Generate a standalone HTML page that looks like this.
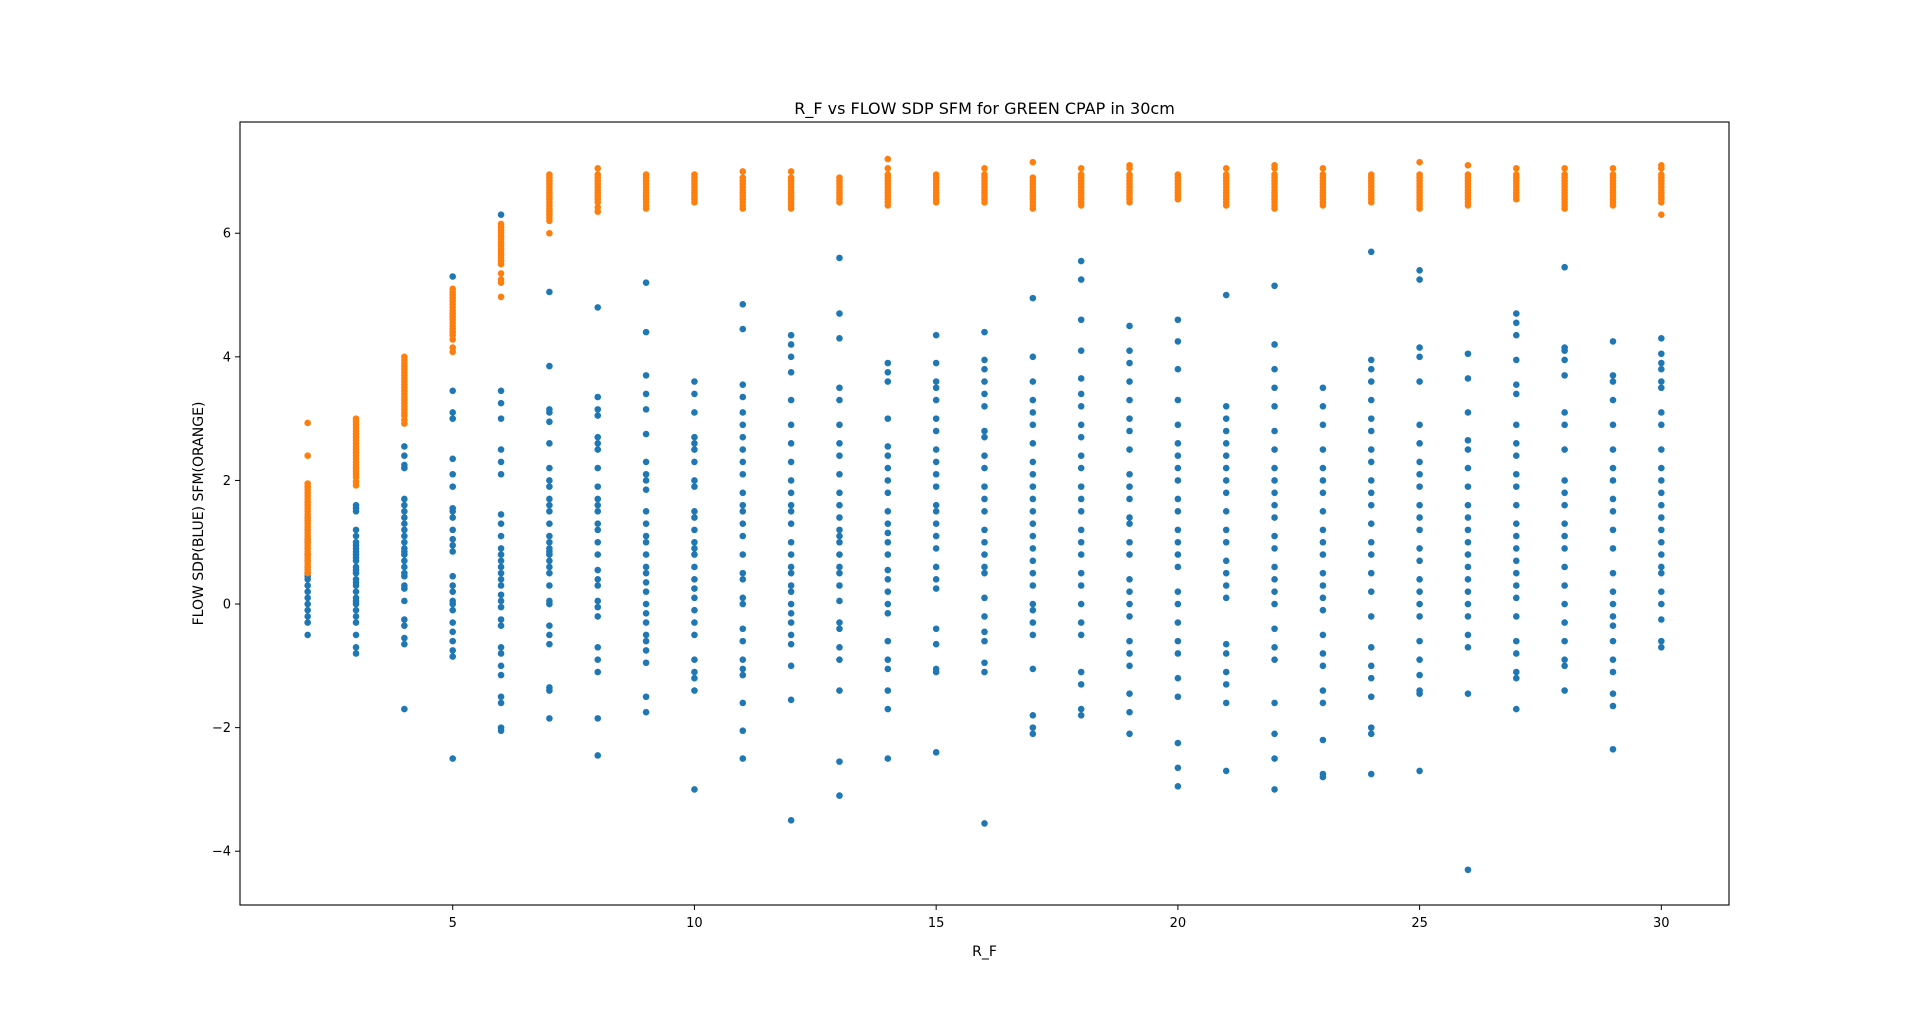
<!DOCTYPE html>
<html><head><meta charset="utf-8"><style>
html,body{margin:0;padding:0;background:#fff;}
svg{display:block;font-family:"DejaVu Sans","Liberation Sans",sans-serif;}
</style></head><body>
<svg id="chart" width="1920" height="1017" viewBox="0 0 1920 1017" xmlns="http://www.w3.org/2000/svg">
<rect x="0" y="0" width="1920" height="1017" fill="#fff"/>
<text x="984.5" y="114" font-size="16" text-anchor="middle" fill="#000">R_F vs FLOW SDP SFM for GREEN CPAP in 30cm</text>
<text x="984.5" y="956" font-size="14" text-anchor="middle" fill="#000">R_F</text>
<text x="0" y="0" font-size="14" text-anchor="middle" fill="#000" transform="translate(203,513.5) rotate(-90)">FLOW SDP(BLUE) SFM(ORANGE)</text>
<g id="marks"></g>
<g id="axes"></g>
</svg>
<script>
const xTicks = [5,10,15,20,25,30];
const yTicks = [-4,-2,0,2,4,6];
const categories = [2,3,4,5,6,7,8,9,10,11,12,13,14,15,16,17,18,19,20,21,22,23,24,25,26,27,28,29,30];
const blueSeries = [
[-0.5,-0.3,-0.2,-0.1,0,0.1,0.2,0.3,0.4,0.45,0.5,0.6,0.7,0.8,0.9,1.0,1.05,1.2,1.4],
[-0.8,-0.7,-0.5,-0.3,-0.2,-0.1,0,0.05,0.1,0.2,0.3,0.35,0.4,0.5,0.55,0.6,0.7,0.75,0.8,0.85,0.9,0.95,1.0,1.1,1.2,1.5,1.55,1.6],
[-1.7,-0.65,-0.55,-0.35,-0.25,0.05,0.25,0.3,0.45,0.5,0.6,0.7,0.8,0.85,0.9,1.0,1.1,1.2,1.3,1.4,1.5,1.6,1.7,2.2,2.25,2.4,2.55],
[-2.5,-0.85,-0.75,-0.6,-0.45,-0.3,-0.1,0,0.05,0.2,0.3,0.45,0.85,0.95,1.05,1.2,1.4,1.5,1.55,1.9,2.1,2.35,3.0,3.1,3.45,5.3],
[-2.05,-2.0,-1.6,-1.5,-1.15,-1.0,-0.8,-0.7,-0.35,-0.25,-0.05,0.05,0.15,0.3,0.4,0.5,0.6,0.7,0.8,0.9,1.1,1.3,1.45,2.1,2.3,2.5,3.0,3.25,3.45,6.3],
[-1.85,-1.4,-1.35,-0.65,-0.5,-0.35,0,0.05,0.3,0.5,0.6,0.7,0.8,0.85,0.9,1.0,1.1,1.3,1.5,1.6,1.7,1.9,2.0,2.2,2.6,2.95,3.1,3.15,3.85,5.05],
[-2.45,-1.85,-1.1,-0.9,-0.7,-0.2,-0.05,0.05,0.3,0.4,0.55,0.8,1.0,1.2,1.3,1.5,1.6,1.7,1.9,2.2,2.5,2.6,2.7,3.05,3.15,3.35,4.8],
[-1.75,-1.5,-0.95,-0.75,-0.6,-0.5,-0.3,-0.15,0,0.2,0.35,0.5,0.6,0.8,1.0,1.1,1.3,1.5,1.85,2.0,2.1,2.3,2.75,3.15,3.4,3.7,4.4,5.2],
[-3.0,-1.4,-1.2,-1.1,-0.9,-0.5,-0.3,-0.1,0.1,0.25,0.4,0.6,0.8,0.9,1.0,1.2,1.4,1.5,1.9,2.0,2.3,2.5,2.6,2.7,3.1,3.4,3.6],
[-2.5,-2.05,-1.6,-1.15,-1.05,-0.9,-0.6,-0.4,0,0.1,0.4,0.5,0.8,1.1,1.3,1.5,1.6,1.8,2.1,2.3,2.5,2.7,2.9,3.1,3.35,3.55,4.45,4.85],
[-3.5,-1.55,-1.0,-0.65,-0.5,-0.3,-0.15,0,0.2,0.3,0.5,0.6,0.8,1.0,1.3,1.5,1.6,1.8,2.0,2.3,2.6,2.9,3.3,3.75,4.0,4.2,4.35],
[-3.1,-2.55,-1.4,-0.9,-0.7,-0.4,-0.3,0.05,0.3,0.5,0.6,0.8,1.0,1.1,1.2,1.4,1.6,1.8,2.1,2.4,2.6,2.9,3.3,3.5,4.3,4.7,5.6],
[-2.5,-1.7,-1.4,-1.05,-0.9,-0.6,-0.15,0,0.2,0.4,0.55,0.8,1.0,1.15,1.3,1.5,1.8,2.0,2.2,2.4,2.55,3.0,3.6,3.75,3.9],
[-2.4,-1.1,-1.05,-0.65,-0.4,0.25,0.4,0.6,0.9,1.1,1.3,1.5,1.6,1.9,2.1,2.3,2.5,2.8,3.0,3.3,3.5,3.6,3.9,4.35],
[-3.55,-1.1,-0.95,-0.6,-0.45,-0.2,0.1,0.5,0.6,0.8,1.0,1.2,1.5,1.7,1.9,2.2,2.4,2.7,2.8,3.2,3.4,3.6,3.8,3.95,4.4],
[-2.1,-2.0,-1.8,-1.05,-0.5,-0.3,-0.1,0,0.3,0.5,0.7,0.9,1.1,1.3,1.5,1.7,1.9,2.1,2.3,2.6,2.9,3.1,3.3,3.6,4.0,4.95],
[-1.8,-1.7,-1.3,-1.1,-0.5,-0.3,0,0.3,0.5,0.8,1.0,1.2,1.5,1.7,1.9,2.2,2.4,2.7,2.9,3.2,3.4,3.65,4.1,4.6,5.25,5.55],
[-2.1,-1.75,-1.45,-1.0,-0.8,-0.6,-0.2,0,0.2,0.4,0.8,1.0,1.3,1.4,1.7,1.9,2.1,2.5,2.8,3.0,3.3,3.6,3.9,4.1,4.5],
[-2.95,-2.65,-2.25,-1.5,-1.2,-0.8,-0.6,-0.3,0,0.2,0.6,0.8,1.0,1.2,1.5,1.7,2.0,2.2,2.4,2.6,2.9,3.3,3.8,4.25,4.6],
[-2.7,-1.6,-1.3,-1.1,-0.8,-0.65,0.1,0.3,0.5,0.7,1.0,1.2,1.5,1.8,2.0,2.2,2.4,2.6,2.8,3.0,3.2,5.0],
[-3.0,-2.5,-2.1,-1.6,-0.9,-0.7,-0.4,0,0.2,0.4,0.6,0.9,1.1,1.4,1.6,1.8,2.0,2.2,2.5,2.8,3.2,3.5,3.8,4.2,5.15],
[-2.8,-2.75,-2.2,-1.6,-1.4,-1.0,-0.8,-0.5,-0.1,0.1,0.3,0.5,0.8,1.0,1.2,1.5,1.8,2.0,2.2,2.5,2.9,3.2,3.5],
[-2.75,-2.1,-2.0,-1.5,-1.2,-1.0,-0.7,-0.2,0.2,0.5,0.8,1.0,1.3,1.6,1.8,2.0,2.3,2.5,2.8,3.0,3.3,3.6,3.8,3.95,5.7],
[-2.7,-1.45,-1.4,-1.15,-0.9,-0.6,-0.2,0,0.2,0.4,0.7,0.9,1.2,1.4,1.6,1.9,2.1,2.3,2.6,2.9,3.6,4.0,4.15,5.25,5.4],
[-4.3,-1.45,-0.7,-0.5,-0.2,0,0.2,0.4,0.6,0.8,1.0,1.2,1.4,1.6,1.9,2.2,2.5,2.65,3.1,3.65,4.05],
[-1.7,-1.2,-1.1,-0.8,-0.6,-0.2,0.1,0.3,0.5,0.7,0.9,1.1,1.3,1.6,1.9,2.1,2.4,2.6,2.9,3.4,3.55,3.95,4.35,4.55,4.7],
[-1.4,-1.0,-0.9,-0.6,-0.3,0,0.3,0.6,0.9,1.1,1.3,1.6,1.8,2.0,2.5,2.9,3.1,3.7,3.95,4.1,4.15,5.45],
[-2.35,-1.65,-1.45,-1.1,-0.9,-0.6,-0.35,-0.2,0,0.2,0.5,0.9,1.2,1.5,1.7,2.0,2.2,2.5,2.9,3.3,3.6,3.7,4.25],
[-0.7,-0.6,-0.25,0,0.2,0.5,0.6,0.8,1.0,1.2,1.4,1.6,1.8,2.0,2.2,2.5,2.9,3.1,3.5,3.6,3.8,3.9,4.05,4.3]
];
const orangeSeries = [
[0.5,0.55,0.6,0.65,0.7,0.75,0.8,0.85,0.9,0.95,1.0,1.05,1.1,1.15,1.2,1.25,1.3,1.35,1.4,1.45,1.5,1.55,1.6,1.65,1.7,1.75,1.8,1.85,1.9,1.95,2.4,2.93],
[1.92,1.98,2.05,2.1,2.15,2.2,2.25,2.3,2.35,2.4,2.45,2.5,2.55,2.6,2.65,2.7,2.75,2.8,2.85,2.9,2.95,3.0],
[2.92,2.98,3.05,3.1,3.15,3.2,3.25,3.3,3.35,3.4,3.45,3.5,3.55,3.6,3.65,3.7,3.75,3.8,3.85,3.9,3.95,4.0],
[4.08,4.15,4.28,4.35,4.4,4.45,4.5,4.55,4.6,4.65,4.7,4.75,4.8,4.85,4.9,4.95,5.0,5.05,5.1],
[4.97,5.2,5.25,5.35,5.5,5.55,5.6,5.65,5.7,5.75,5.8,5.85,5.9,5.95,6.0,6.05,6.1,6.15],
[6.0,6.2,6.25,6.3,6.35,6.4,6.45,6.5,6.55,6.6,6.65,6.7,6.75,6.8,6.85,6.9,6.95],
[6.35,6.42,6.5,6.55,6.6,6.65,6.7,6.75,6.8,6.85,6.9,6.95,7.05],
[6.4,6.45,6.5,6.55,6.6,6.65,6.7,6.75,6.8,6.85,6.9,6.95],
[6.5,6.55,6.6,6.65,6.7,6.75,6.8,6.85,6.9,6.95],
[6.4,6.45,6.5,6.55,6.6,6.65,6.7,6.75,6.8,6.85,6.9,7.0],
[6.4,6.45,6.5,6.55,6.6,6.65,6.7,6.75,6.8,6.85,6.9,7.0],
[6.5,6.55,6.6,6.65,6.7,6.75,6.8,6.85,6.9],
[6.45,6.5,6.55,6.6,6.65,6.7,6.75,6.8,6.85,6.9,6.95,7.05,7.2],
[6.5,6.55,6.6,6.65,6.7,6.75,6.8,6.85,6.9,6.95],
[6.5,6.55,6.6,6.65,6.7,6.75,6.8,6.85,6.9,6.95,7.05],
[6.4,6.45,6.5,6.55,6.6,6.65,6.7,6.75,6.8,6.85,6.9,7.15],
[6.45,6.5,6.55,6.6,6.65,6.7,6.75,6.8,6.85,6.9,6.95,7.05],
[6.5,6.55,6.6,6.65,6.7,6.75,6.8,6.85,6.9,6.95,7.05,7.1],
[6.55,6.6,6.65,6.7,6.75,6.8,6.85,6.9,6.95],
[6.45,6.5,6.55,6.6,6.65,6.7,6.75,6.8,6.85,6.9,6.95,7.05],
[6.4,6.45,6.5,6.55,6.6,6.65,6.7,6.75,6.8,6.85,6.9,6.95,7.05,7.1],
[6.45,6.5,6.55,6.6,6.65,6.7,6.75,6.8,6.85,6.9,6.95,7.05],
[6.5,6.55,6.6,6.65,6.7,6.75,6.8,6.85,6.9,6.95],
[6.4,6.45,6.5,6.55,6.6,6.65,6.7,6.75,6.8,6.85,6.9,6.95,7.15],
[6.45,6.5,6.55,6.6,6.65,6.7,6.75,6.8,6.85,6.9,6.95,7.1],
[6.55,6.6,6.65,6.7,6.75,6.8,6.85,6.9,6.95,7.05],
[6.4,6.45,6.5,6.55,6.6,6.65,6.7,6.75,6.8,6.85,6.9,6.95,7.05],
[6.45,6.5,6.55,6.6,6.65,6.7,6.75,6.8,6.85,6.9,6.95,7.05],
[6.3,6.5,6.55,6.6,6.65,6.7,6.75,6.8,6.85,6.9,6.95,7.05,7.1]
];
const NS = 'http://www.w3.org/2000/svg';
const L = 240, R = 1729, T = 122, B = 905;
const xMin = 0.6, xMax = 31.4, yMin = -4.87, yMax = 7.8;
function xs(v){ return L + (v - xMin) / (xMax - xMin) * (R - L); }
function ys(v){ return B - (v - yMin) / (yMax - yMin) * (B - T); }
const marks = document.getElementById('marks');
const axes = document.getElementById('axes');
function drawSeries(series, color, name){
  const g = document.createElementNS(NS, 'g');
  
  
  series.forEach((vals, i) => {
    vals.forEach(v => {
      const c = document.createElementNS(NS, 'circle');
      
      
      c.setAttribute('cx', xs(categories[i]).toFixed(2));
      c.setAttribute('cy', ys(v).toFixed(2));
      c.setAttribute('r', 3.3);
      c.setAttribute('fill', color);
      g.appendChild(c);
    });
  });
  marks.appendChild(g);
}
drawSeries(blueSeries, '#1f77b4', 'flow-sdp-series');
drawSeries(orangeSeries, '#ff7f0e', 'sfm-series');
const frame = document.createElementNS(NS, 'rect');


frame.setAttribute('x', L); frame.setAttribute('y', T);
frame.setAttribute('width', R - L); frame.setAttribute('height', B - T);
frame.setAttribute('fill', 'none'); frame.setAttribute('stroke', '#000'); frame.setAttribute('stroke-width', '1.1');
axes.appendChild(frame);
xTicks.forEach(t => {
  const x = xs(t);
  const ln = document.createElementNS(NS, 'line');
  
  
  ln.setAttribute('x1', x); ln.setAttribute('x2', x); ln.setAttribute('y1', B); ln.setAttribute('y2', B + 5);
  ln.setAttribute('stroke', '#000'); ln.setAttribute('stroke-width', '1');
  axes.appendChild(ln);
  const tx = document.createElementNS(NS, 'text');
  
  
  tx.setAttribute('x', x); tx.setAttribute('y', B + 22);
  tx.setAttribute('font-size', '13'); tx.setAttribute('text-anchor', 'middle');
  tx.textContent = String(t);
  axes.appendChild(tx);
});
yTicks.forEach(t => {
  const y = ys(t);
  const ln = document.createElementNS(NS, 'line');
  
  
  ln.setAttribute('x1', L - 5); ln.setAttribute('x2', L); ln.setAttribute('y1', y); ln.setAttribute('y2', y);
  ln.setAttribute('stroke', '#000'); ln.setAttribute('stroke-width', '1');
  axes.appendChild(ln);
  const tx = document.createElementNS(NS, 'text');
  
  
  tx.setAttribute('x', L - 9); tx.setAttribute('y', y + 4.5);
  tx.setAttribute('font-size', '13'); tx.setAttribute('text-anchor', 'end');
  tx.textContent = t < 0 ? '\u2212' + Math.abs(t) : String(t);
  axes.appendChild(tx);
});
</script>
</body></html>
